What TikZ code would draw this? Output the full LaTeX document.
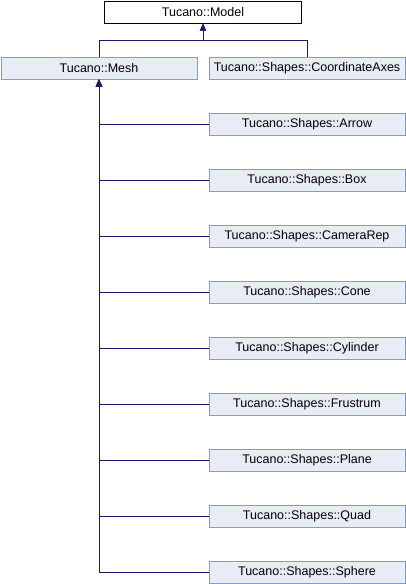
\documentclass[tikz,border=0pt]{standalone}
\usepackage{fontspec}
\setmainfont{Liberation Sans}
\usetikzlibrary{arrows.meta}
\definecolor{boxfill}{RGB}{232,236,246}
\definecolor{boxline}{RGB}{132,155,204}
\definecolor{edge}{RGB}{25,25,112}
\begin{document}
\begin{tikzpicture}[x=1pt,y=-1pt,
  cls/.style={draw=boxline,fill=boxfill,line width=1pt,minimum height=22pt,inner sep=0pt,font=\fontsize{12.5}{14}\selectfont},
  base/.style={draw=black,fill=white,line width=1pt,minimum height=22pt,inner sep=0pt,font=\fontsize{12.5}{14}\selectfont},
  inh/.style={draw=edge,line width=1pt,-{Triangle[length=7pt,width=6pt]}}]
\useasboundingbox (0,0) rectangle (406,584);
\node[base,minimum width=197pt] (model) at (203,12) {Tucano::Model};
\node[cls,minimum width=196pt] (mesh) at (99,68) {Tucano::Mesh};
\node[cls,minimum width=196pt] (axes) at (307,68) {Tucano::Shapes::CoordinateAxes};
\coordinate (j) at (203,40);
\draw[inh] (mesh.north) |- (j) -- (model.south);
\draw[inh] (axes.north) |- (j) -- (model.south);
\foreach \n/\t/\y in {arrow/Arrow/124, box/Box/180, cam/CameraRep/236, cone/Cone/292, cyl/Cylinder/348, fru/Frustrum/404, plane/Plane/460, quad/Quad/516, sph/Sphere/572}{
  \node[cls,minimum width=196pt] (\n) at (307,\y) {Tucano::Shapes::\t};
}
\foreach \n in {arrow,box,cam,cone,cyl,fru,plane,quad,sph}{
  \draw[inh] (\n.west) -| (mesh.south);
}
\end{tikzpicture}
\end{document}
